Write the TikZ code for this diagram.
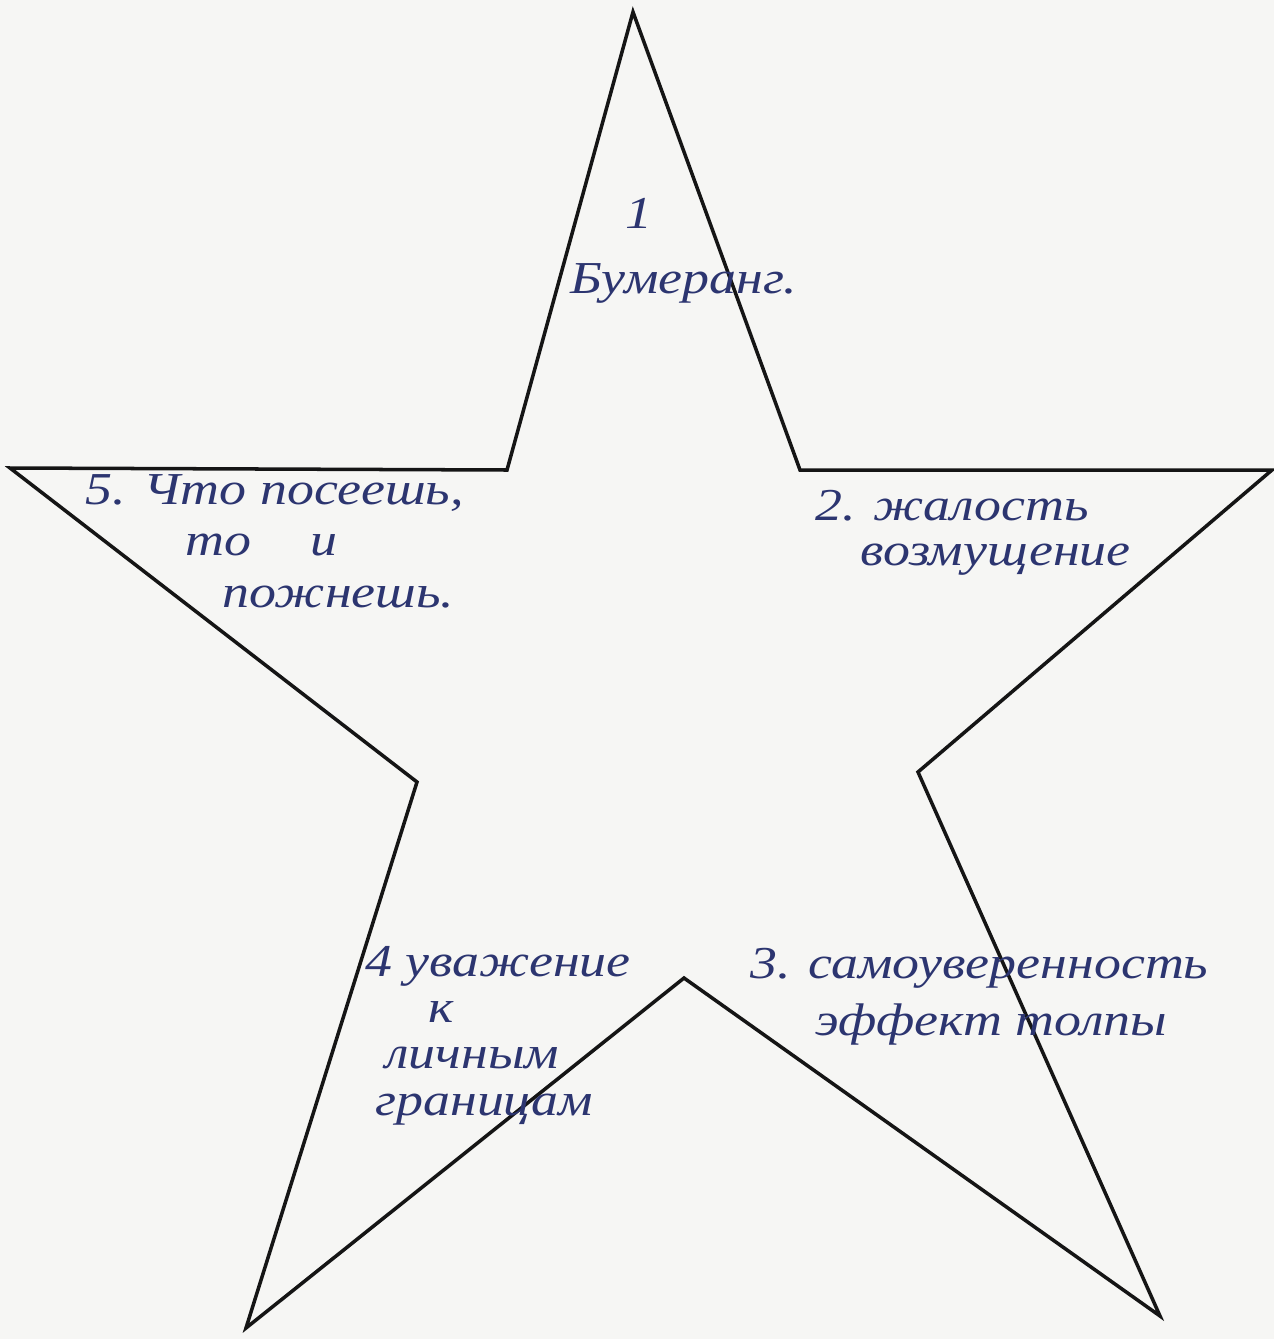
\documentclass[tikz,border=0pt]{standalone}
\usepackage{fontspec}
\setmainfont{Liberation Serif}
\newfontfamily\handfont{Liberation Serif}[FakeStretch=1.18]
\usetikzlibrary{positioning}
\definecolor{paper}{HTML}{F6F6F4}
\definecolor{ink}{HTML}{2C3570}
\definecolor{edge}{HTML}{151515}

\begin{document}
\begin{tikzpicture}[x=0.02cm, y=-0.02cm,
    star/.style={draw=edge, line width=2pt, line join=miter},
    hand/.style={anchor=west, inner sep=0pt, text=ink, font=\handfont\itshape\fontsize{26}{28}\selectfont}]
  \fill[paper] (0,0) rectangle (1274,1339);
  \useasboundingbox (0,0) rectangle (1274,1339);
  % star points and inner corners
  \coordinate (top) at (633,12);
  \coordinate (ul) at (507,470);
  \coordinate (left) at (10,468);
  \coordinate (ll) at (417,782);
  \coordinate (bl) at (246,1328);
  \coordinate (bot) at (684,978);
  \coordinate (br) at (1160,1316);
  \coordinate (lr) at (918,772);
  \coordinate (right) at (1272,470);
  \coordinate (ur) at (800,470);
  \draw[star] (top) -- (ul) -- (left) -- (ll) -- (bl) -- (bot) -- (br) -- (lr) -- (right) -- (ur) -- cycle;
  % labels
  \node[hand] (n1) at (625,213) {1};
  \node[hand] (bum) at (570,283) {Бумеранг.};
  \node[hand] (n5a) at (85,493) {5. Что посеешь,};
  \node[hand] (n5b) at (185,545) {то \quad и};
  \node[hand] (n5c) at (222,597) {пожнешь.};
  \node[hand] (n2a) at (815,506) {2. жалость};
  \node[hand] (n2b) at (860,560) {возмущение};
  \node[hand] (n4a) at (365,966) {4 уважение};
  \node[hand] (n4b) at (428,1012) {к};
  \node[hand] (n4c) at (385,1058) {личным};
  \node[hand] (n4d) at (375,1110) {границам};
  \node[hand] (n3a) at (750,968) {3. самоуверенность};
  \node[hand] (n3b) at (815,1025) {эффект толпы};
\end{tikzpicture}
\end{document}
